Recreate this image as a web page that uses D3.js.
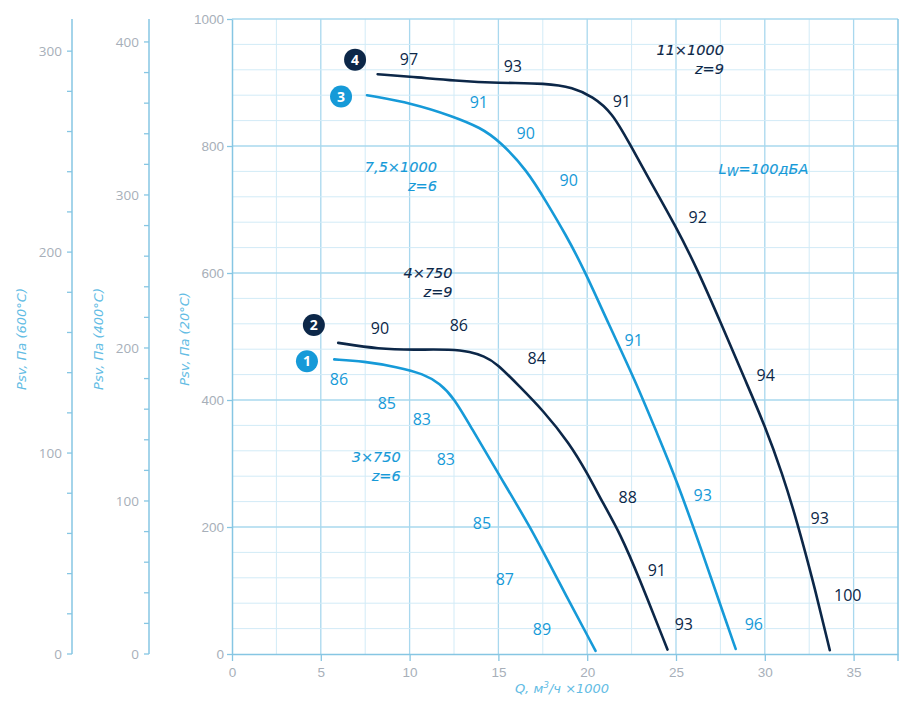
<!DOCTYPE html>
<html>
<head>
<meta charset="utf-8">
<script src="https://cdn.jsdelivr.net/npm/d3@7"></script>
<style>
  body { margin: 0; background: #fff; }
  svg { display: block; font-family: "Open Sans", sans-serif; }
</style>
</head>
<body>
<svg id="chart" width="922" height="711"></svg>
<script>
// fan curves, Q in m3/h x1000, Psv in Pa at 20°C
var curve1 = [[5.76,464],[7.4,461],[9.3,452],[10.8,441],[11.7,426],[12.5,403],[13.4,360],[15.1,279],[16.8,200],[18.3,119],[20.47,5]];
var curve2 = [[5.98,490],[8.3,480],[10.2,479],[12.4,480],[13.4,476],[14.2,469],[14.9,458],[16.2,421],[17.5,384],[19,332],[20,285],[20.9,237],[21.85,190],[22.9,122],[24.52,7]];
var curve3 = [[7.6,880],[10.2,867],[12.4,847],[14,829],[15.1,807],[16.6,762],[17.7,712],[18.8,660],[19.8,607],[21.2,520],[22.7,431],[24,343],[25,276],[26.5,159],[27.5,77],[28.36,8]];
var curve4 = [[8.2,913],[10.5,908],[12.5,903],[15,899],[17.7,899],[19.2,892],[20.3,878],[21.4,853],[22.4,803],[23.5,747],[25,673],[26.2,606],[27.5,523],[28.9,431],[30,360],[31,283],[31.8,210],[32.7,117],[33.66,6]];

// sound power labels along each curve: [Q, P, text]
var labels1 = [[6.02,433,"86"],[8.72,394,"85"],[10.69,370,"83"],[12.04,307,"83"],[14.07,206,"85"],[15.36,118,"87"],[17.45,39,"89"]];
var labels2 = [[8.33,512,"90"],[12.77,518,"86"],[17.16,465,"84"],[22.28,247,"88"],[23.92,131,"91"],[25.44,46,"93"]];
var labels3 = [[13.9,868,"91"],[16.54,820,"90"],[18.96,746,"90"],[22.62,494,"91"],[26.5,249,"93"],[29.38,46,"96"]];
var labels4 = [[9.96,937,"97"],[15.81,926,"93"],[21.95,871,"91"],[26.22,688,"92"],[30.05,439,"94"],[33.09,214,"93"],[34.67,93,"100"]];

// curve numbers: [Q, P, number]
var markers = [[4.22,461,"1"],[4.61,518,"2"],[6.14,878,"3"],[6.93,936,"4"]];

// model captions: [Q, P, line1, line2]
var captions = [[9.5,311,"3×750","z=6"],[12.42,600,"4×750","z=9"],[11.54,767,"7,5×1000","z=6"],[27.7,951,"11×1000","z=9"]];

var qTicks = [0,5,10,15,20,25,30,35];
var p20Ticks = [0,200,400,600,800,1000];
var p400Ticks = [0,100,200,300,400];
var p600Ticks = [0,100,200,300];

var DARK = "#0c2748",
	BLUE = "#169ad8",
	AXIS = "#86c6e3",
	GRID_MAJOR = "#a9d8ee",
	GRID_MINOR = "#d2ebf7",
	TICK_TEXT = "#a7afb9",
	TITLE = "#62bce4",
	OBLIQUE = "'DejaVu Sans', sans-serif";

var svg = d3.select("#chart");

var x = d3.scaleLinear().domain([0, 37.5]).range([232, 898]);
var y = d3.scaleLinear().domain([0, 1000]).range([654, 19]);
var y400 = d3.scaleLinear().domain([0, 415]).range([654, 19]);
var y600 = d3.scaleLinear().domain([0, 316]).range([654, 19]);

// grid
var grid = svg.append("g");
grid.selectAll(".vg")
	.data(d3.range(2.5, 37.5, 2.5))
	.enter().append("line")
	.attr("x1", function(d) { return x(d); })
	.attr("x2", function(d) { return x(d); })
	.attr("y1", y(0)).attr("y2", y(1000))
	.attr("stroke", function(d) { return d % 5 == 0 ? GRID_MAJOR : GRID_MINOR; })
	.attr("stroke-width", function(d) { return d % 5 == 0 ? 1.3 : 1; });
grid.selectAll(".hg")
	.data(d3.range(40, 1001, 40))
	.enter().append("line")
	.attr("x1", x(0)).attr("x2", x(37.5))
	.attr("y1", function(d) { return y(d); })
	.attr("y2", function(d) { return y(d); })
	.attr("stroke", function(d) { return d % 200 == 0 ? GRID_MAJOR : GRID_MINOR; })
	.attr("stroke-width", function(d) { return d % 200 == 0 ? 1.3 : 1; });

// right border
svg.append("line")
	.attr("x1", x(37.5)).attr("x2", x(37.5))
	.attr("y1", y(1000)).attr("y2", y(0) + 7)
	.attr("stroke", AXIS).attr("stroke-width", 1.5);

function styleAxis(g) {
	g.select(".domain").attr("stroke", AXIS).attr("stroke-width", 1.5);
	g.selectAll(".tick line").attr("stroke", AXIS).attr("stroke-width", 1.3);
	g.selectAll(".tick text").attr("fill", TICK_TEXT).attr("font-size", 13.5);
}

// axes
svg.append("g")
	.attr("transform", "translate(0," + y(0) + ")")
	.call(d3.axisBottom(x).tickValues(qTicks).tickSize(7).tickSizeOuter(0).tickPadding(6))
	.call(styleAxis);

svg.append("g")
	.attr("transform", "translate(" + x(0) + ",0)")
	.call(d3.axisLeft(y).tickValues(p20Ticks).tickFormat(d3.format("d")).tickSize(5).tickSizeOuter(0).tickPadding(3))
	.call(styleAxis);

function sideAxis(scale, xpos, ticks, top) {
	var g = svg.append("g").attr("transform", "translate(" + xpos + ",0)");
	g.append("line")
		.attr("y1", y(0)).attr("y2", y(1000))
		.attr("stroke", AXIS).attr("stroke-width", 1.5);
	g.selectAll(".minor")
		.data(d3.range(0, top, 20))
		.enter().append("line")
		.attr("x1", -5).attr("x2", 0)
		.attr("y1", function(d) { return scale(d); })
		.attr("y2", function(d) { return scale(d); })
		.attr("stroke", AXIS).attr("stroke-width", 1.3);
	g.selectAll("text")
		.data(ticks)
		.enter().append("text")
		.attr("x", -10)
		.attr("y", function(d) { return scale(d); })
		.attr("dy", "0.35em")
		.attr("text-anchor", "end")
		.attr("fill", TICK_TEXT)
		.attr("font-size", 13.5)
		.text(function(d) { return d; });
}
sideAxis(y600, 72, p600Ticks, 316);
sideAxis(y400, 149, p400Ticks, 415);

// axis titles
function yTitle(xpos, text) {
	svg.append("text")
		.attr("transform", "translate(" + xpos + ",339) rotate(-90)")
		.attr("text-anchor", "middle")
		.attr("fill", TITLE)
		.attr("font-family", OBLIQUE)
		.attr("font-size", 13)
		.attr("font-style", "italic")
		.text(text);
}
yTitle(26, "Psv, Па (600°C)");
yTitle(103, "Psv, Па (400°C)");
yTitle(189, "Psv, Па (20°C)");

var qTitle = svg.append("text")
	.attr("x", 562).attr("y", 693)
	.attr("text-anchor", "middle")
	.attr("fill", TITLE)
	.attr("font-family", OBLIQUE)
	.attr("font-size", 13)
	.attr("font-style", "italic");
qTitle.append("tspan").text("Q, м");
qTitle.append("tspan").attr("font-size", 9).attr("dy", -5).text("3");
qTitle.append("tspan").attr("dy", 5).text("/ч ×1000");

// curves
var line = d3.line()
	.x(function(d) { return x(d[0]); })
	.y(function(d) { return y(d[1]); })
	.curve(d3.curveBasis);

[[curve1, BLUE], [curve2, DARK], [curve3, BLUE], [curve4, DARK]].forEach(function(c) {
	svg.append("path")
		.datum(c[0])
		.attr("d", line)
		.attr("fill", "none")
		.attr("stroke", c[1])
		.attr("stroke-width", 2.6)
		.attr("stroke-linecap", "round");
});

// level labels
[[labels1, BLUE], [labels2, DARK], [labels3, BLUE], [labels4, DARK]].forEach(function(l) {
	svg.append("g").selectAll("text")
		.data(l[0])
		.enter().append("text")
		.attr("x", function(d) { return x(d[0]); })
		.attr("y", function(d) { return y(d[1]); })
		.attr("dy", "0.35em")
		.attr("text-anchor", "middle")
		.attr("fill", l[1])
		.attr("font-size", 16)
		.text(function(d) { return d[2]; });
});

// numbered markers
var mk = svg.append("g").selectAll("g")
	.data(markers)
	.enter().append("g")
	.attr("transform", function(d) { return "translate(" + x(d[0]) + "," + y(d[1]) + ")"; });
mk.append("circle")
	.attr("r", 11)
	.attr("fill", function(d) { return +d[2] % 2 ? BLUE : DARK; });
mk.append("text")
	.attr("dy", "0.36em")
	.attr("text-anchor", "middle")
	.attr("fill", "#fff")
	.attr("font-size", 14)
	.attr("font-weight", 700)
	.text(function(d) { return d[2]; });

// captions
captions.forEach(function(c, i) {
	var col = i % 2 ? DARK : BLUE;
	[c[2], c[3]].forEach(function(t, j) {
		svg.append("text")
			.attr("x", x(c[0]))
			.attr("y", y(c[1]) + j * 19)
			.attr("dy", "0.35em")
			.attr("text-anchor", "end")
			.attr("fill", col)
			.attr("stroke", col)
			.attr("stroke-width", 0.15)
			.attr("font-family", OBLIQUE)
			.attr("font-size", 14.5)
			.attr("font-style", "italic")
			.text(t);
	});
});

var lw = svg.append("text")
	.attr("x", x(27.4)).attr("y", y(764))
	.attr("dy", "0.35em")
	.attr("fill", BLUE)
	.attr("stroke", BLUE)
	.attr("stroke-width", 0.15)
	.attr("font-family", OBLIQUE)
	.attr("font-size", 14.5)
	.attr("font-style", "italic");
lw.append("tspan").text("L");
lw.append("tspan").attr("font-size", 12).attr("dy", 2).text("W");
lw.append("tspan").attr("dy", -2).text("=100дБА");
</script>
</body>
</html>
